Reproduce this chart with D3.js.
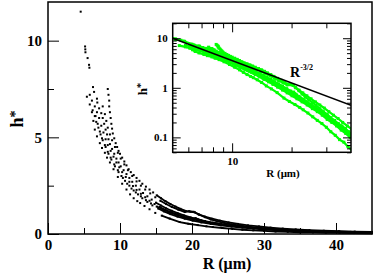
<!DOCTYPE html>
<html>
<head>
<meta charset="utf-8">
<script src="https://cdn.jsdelivr.net/npm/d3@7"></script>
<style>
  body { margin: 0; background: #fff; }
</style>
</head>
<body>
<div id="chart"></div>
<script>
// curves, [R (um), h*]
const curveA = [[8.3,7.5],[8.4,7.2],[8.5,6.9],[8.5,6.6],[8.6,6.3],[8.7,6.0],[8.8,5.7],[8.9,5.45],[9.0,5.2],[9.2,4.95],[9.4,4.7],[9.6,4.5],[9.8,4.3],[10.0,4.15],[10.3,3.95],[10.6,3.75],[10.9,3.55],[11.2,3.35],[11.5,3.2],[11.9,3.05],[12.3,2.9],[12.7,2.75],[13.1,2.6],[13.6,2.45],[14.1,2.3],[14.6,2.15],[15.1,2.0],[15.7,1.85],[16.3,1.7],[17.0,1.55],[17.7,1.42],[18.4,1.3],[19.2,1.18],[19.8,1.15],[20.4,1.12],[21.0,1.0],[21.8,0.87],[22.6,0.75],[23.5,0.65],[24.5,0.57],[25.5,0.5],[26.6,0.44],[27.8,0.38],[29,0.33],[30.3,0.29],[31.6,0.25],[33,0.22],[34.5,0.19],[36,0.17],[37.5,0.15],[39,0.13],[40.5,0.12],[42,0.11],[43.5,0.1],[45,0.09]];
const curveB = [[4.54,11.5],[5.15,9.7],[5.18,9.55],[5.2,9.4],[5.5,9.1],[5.7,8.75],[5.75,8.6],[6.25,7.6],[6.4,7.35],[6.8,7.0],[6.85,6.8],[7.1,6.5],[7.4,6.25],[7.6,6.0],[7.8,5.7],[8.0,5.4],[8.2,5.15],[8.4,4.9],[8.6,4.65],[8.9,4.4],[9.2,4.15],[9.5,3.9],[9.8,3.7],[10.1,3.5],[10.5,3.3],[10.9,3.1],[11.3,2.9],[11.7,2.7],[12.2,2.5],[12.7,2.3],[13.2,2.12],[13.8,1.95],[14.4,1.78],[15.0,1.62],[15.7,1.47],[16.4,1.33],[17.2,1.2],[18.0,1.08],[18.9,0.96],[19.8,0.86],[20.8,0.76],[21.8,0.67],[22.9,0.59],[24,0.52],[25.2,0.45],[26.5,0.39],[27.9,0.34],[29.3,0.29],[30.8,0.25],[32.4,0.21],[34,0.18],[35.7,0.15],[37.4,0.13],[39.2,0.11],[41,0.09],[43,0.08],[45,0.07]];
const curveC = [[5.4,7.1],[5.8,6.7],[6.1,6.3],[6.3,5.85],[6.5,5.4],[6.8,5.05],[7.2,4.7],[7.5,4.45],[7.9,4.2],[8.2,3.95],[8.6,3.7],[9.1,3.35],[9.7,2.95],[10.3,2.6],[10.9,2.3],[11.4,2.05],[11.9,1.85],[12.4,1.7],[12.8,1.6],[13.4,1.45],[14.1,1.28],[14.9,1.09],[15.8,0.95],[16.9,0.8],[18.3,0.62],[19.5,0.53],[20.8,0.46],[22,0.4],[22.9,0.36],[24.2,0.31],[25.6,0.26],[27,0.22],[28.5,0.19],[30,0.16],[31.6,0.13],[33.3,0.11],[35,0.09],[36.8,0.08],[38.6,0.065],[40.5,0.055],[42.5,0.05],[45,0.04]];
const curveD = [[5.8,7.2],[6.1,6.9],[6.5,6.6],[6.8,6.3],[7.1,6.0],[7.4,5.6],[7.7,5.25],[8.0,4.9],[8.3,4.6],[8.7,4.3],[9.1,4.0],[9.5,3.7],[9.9,3.45],[10.3,3.2],[10.8,2.95],[11.3,2.7],[11.8,2.48],[12.3,2.28],[12.9,2.08],[13.5,1.9],[14.1,1.72],[14.8,1.55],[15.5,1.4],[16.3,1.25],[17.1,1.12],[18,1.0],[18.9,0.89],[19.8,0.8],[20.5,0.82],[21.2,0.72],[22.2,0.62],[23.3,0.54],[24.5,0.47],[25.8,0.41],[27.2,0.35],[28.7,0.3],[30.2,0.26],[31.8,0.22],[33.5,0.19],[35.3,0.16],[37.1,0.14],[39,0.12],[41,0.1],[43,0.085],[45,0.075]];
const curveE = [[6.6,6.1],[6.9,5.7],[7.2,5.3],[7.5,4.95],[7.9,4.6],[8.3,4.25],[8.7,3.95],[9.2,3.6],[9.7,3.3],[10.2,3.0],[10.7,2.75],[11.3,2.5],[11.9,2.25],[12.5,2.05],[13.1,1.85],[13.8,1.66],[14.5,1.48],[15.3,1.32],[16.1,1.17],[17,1.03],[18,0.9],[19,0.79],[20.1,0.69],[21.3,0.6],[22.6,0.52],[24,0.45],[25.5,0.38],[27,0.33],[28.6,0.28],[30.3,0.23],[32,0.2],[33.8,0.17],[35.7,0.14],[37.6,0.12],[39.6,0.1],[41.6,0.085],[43.6,0.07],[45,0.065]];
const curveF = [[6.2,6.4],[6.5,6.1],[6.7,5.8],[7.0,5.5],[7.3,5.15],[7.6,4.85],[8.0,4.5],[8.4,4.15],[8.8,3.85],[9.3,3.5],[9.8,3.2],[10.4,2.9],[11.0,2.6],[11.6,2.35],[12.2,2.15],[12.9,1.95],[13.6,1.75],[14.3,1.58],[15.1,1.42],[15.9,1.28],[16.8,1.14],[17.7,1.02],[18.7,0.9],[19.7,0.8],[20.8,0.7],[22,0.61],[23.3,0.53],[24.7,0.46],[26.2,0.4],[27.8,0.34],[29.5,0.29],[31.3,0.24],[33.2,0.2],[35.2,0.17],[37.3,0.14],[39.5,0.12],[41.8,0.1],[44.5,0.085]];
const curveG = [[7.6,6.6],[7.9,6.2],[8.1,5.85],[8.3,5.5],[8.6,5.15],[8.9,4.85],[9.3,4.5],[9.7,4.2],[10.1,3.9],[10.6,3.6],[11.1,3.3],[11.7,3.0],[12.3,2.72],[12.9,2.5],[13.5,2.3],[14.2,2.1],[14.9,1.9],[15.6,1.72],[16.4,1.55],[17.2,1.4],[18.1,1.26],[19.0,1.14],[19.6,1.18],[20.2,1.15],[20.9,1.02],[21.8,0.9],[22.8,0.79],[23.9,0.69],[25.1,0.6],[26.4,0.52],[27.8,0.45],[29.3,0.39],[30.9,0.33],[32.6,0.28],[34.4,0.24],[36.3,0.2],[38.3,0.17],[40.4,0.145],[42.6,0.125],[45,0.11]];
const curves = [curveA, curveB, curveC, curveD, curveE, curveF, curveG];

// R^-3/2 guide line end points
const powerLine = [[5, 10], [40, 10 * Math.pow(8, -1.5)]];

const xMajor = [0, 10, 20, 30, 40];
const xMinor = [5, 15, 25, 35];
const yMajor = [0, 5, 10];
const yMinor = [2.5, 7.5];
const insetYMajor = [0.1, 1, 10];
const insetYMinor = [0.05,0.06,0.07,0.08,0.09,0.2,0.3,0.4,0.5,0.6,0.7,0.8,0.9,2,3,4,5,6,7,8,9,20];
const insetXMajor = [10];
const insetXMinor = [6, 7, 8, 9, 20, 30];

const FONT = "'Liberation Serif', 'Times New Roman', Times, serif";

const svg = d3.select("#chart").append("svg")
  .attr("width", 374)
  .attr("height", 276)
  .attr("font-family", FONT)
  .attr("font-weight", "bold");

// main plot
const x = d3.scaleLinear().domain([0, 45]).range([48, 372]);
const y = d3.scaleLinear().domain([0, 12]).range([234, 2]);

function styleAxis(g, size) {
  g.attr("font-family", FONT).attr("font-weight", "bold");
  g.select(".domain").remove();
  g.selectAll("line").attr("stroke", "#000");
  g.selectAll("text").attr("font-size", size).attr("fill", "#000");
}

svg.append("g").attr("transform", "translate(0,234)")
  .call(d3.axisBottom(x).tickValues(xMajor).tickSize(-11).tickPadding(5))
  .call(g => styleAxis(g, 15));
svg.append("g").attr("transform", "translate(0,234)")
  .call(d3.axisBottom(x).tickValues(xMinor).tickSize(-6).tickFormat(""))
  .call(g => styleAxis(g, 15));
svg.append("g").attr("transform", "translate(48,0)")
  .call(d3.axisLeft(y).tickValues(yMajor).tickSize(-11).tickPadding(6))
  .call(g => styleAxis(g, 15));
svg.append("g").attr("transform", "translate(48,0)")
  .call(d3.axisLeft(y).tickValues(yMinor).tickSize(-6).tickFormat(""))
  .call(g => styleAxis(g, 15));

svg.append("rect")
  .attr("x", 48).attr("y", 2).attr("width", 324).attr("height", 232)
  .attr("fill", "none").attr("stroke", "#000").attr("stroke-width", 1.5);

const tailLine = d3.line()
  .defined(d => d[0] >= 15)
  .x(d => x(d[0])).y(d => y(d[1]));

curves.forEach(c => {
  svg.append("path").datum(c)
    .attr("d", tailLine)
    .attr("fill", "none").attr("stroke", "#000").attr("stroke-width", 1.8);
  svg.append("g").selectAll("rect").data(c).enter().append("rect")
    .attr("x", d => x(d[0]) - 1).attr("y", d => y(d[1]) - 1)
    .attr("width", 2).attr("height", 2).attr("fill", "#000");
});

svg.append("text")
  .attr("x", 227).attr("y", 269)
  .attr("text-anchor", "middle").attr("font-size", 16)
  .text("R (\u03bcm)");

const yLab = svg.append("text")
  .attr("transform", "translate(23,119) rotate(-90)")
  .attr("text-anchor", "middle").attr("font-size", 18);
yLab.append("tspan").text("h");
yLab.append("tspan").attr("font-size", 14).attr("dy", -3).text("*");

// inset
const xi = d3.scaleLog().domain([5, 40]).range([172.7, 351]);
const yi = d3.scaleLog().domain([0.05, 20]).range([152.3, 23.3]);

svg.append("rect")
  .attr("x", 172.7).attr("y", 23.3).attr("width", 178.3).attr("height", 129)
  .attr("fill", "#fff");

svg.append("clipPath").attr("id", "insetClip")
  .append("rect")
  .attr("x", 172.7).attr("y", 23.3).attr("width", 178.3).attr("height", 129);

const inner = svg.append("g").attr("clip-path", "url(#insetClip)");
const insetLine = d3.line().x(d => xi(d[0])).y(d => yi(d[1]));

curves.forEach(c => {
  inner.append("path").datum(c)
    .attr("d", insetLine)
    .attr("fill", "none").attr("stroke", "#00ff00").attr("stroke-width", 2.2);
  inner.append("g").selectAll("rect").data(c).enter().append("rect")
    .attr("x", d => xi(d[0]) - 1.5).attr("y", d => yi(d[1]) - 1.5)
    .attr("width", 3).attr("height", 3).attr("fill", "#00ff00");
});

inner.append("path").datum(powerLine)
  .attr("d", insetLine)
  .attr("fill", "none").attr("stroke", "#000").attr("stroke-width", 1.5);

svg.append("g").attr("transform", "translate(0,152.3)")
  .call(d3.axisBottom(xi).tickValues(insetXMajor).tickSize(-9).tickPadding(5).tickFormat(d3.format("d")))
  .call(g => styleAxis(g, 11));
svg.append("g").attr("transform", "translate(0,152.3)")
  .call(d3.axisBottom(xi).tickValues(insetXMinor).tickSize(-5).tickFormat(""))
  .call(g => styleAxis(g, 11));
svg.append("g").attr("transform", "translate(0,23.3)")
  .call(d3.axisTop(xi).tickValues(insetXMajor).tickSize(-9).tickFormat(""))
  .call(g => styleAxis(g, 11));
svg.append("g").attr("transform", "translate(0,23.3)")
  .call(d3.axisTop(xi).tickValues(insetXMinor).tickSize(-5).tickFormat(""))
  .call(g => styleAxis(g, 11));
svg.append("g").attr("transform", "translate(172.7,0)")
  .call(d3.axisLeft(yi).tickValues(insetYMajor).tickSize(-8).tickPadding(5).tickFormat(d => String(d)))
  .call(g => styleAxis(g, 11));
svg.append("g").attr("transform", "translate(172.7,0)")
  .call(d3.axisLeft(yi).tickValues(insetYMinor).tickSize(-4).tickFormat(""))
  .call(g => styleAxis(g, 11));
svg.append("g").attr("transform", "translate(351,0)")
  .call(d3.axisRight(yi).tickValues(insetYMajor).tickSize(-8).tickFormat(""))
  .call(g => styleAxis(g, 11));
svg.append("g").attr("transform", "translate(351,0)")
  .call(d3.axisRight(yi).tickValues(insetYMinor).tickSize(-4).tickFormat(""))
  .call(g => styleAxis(g, 11));

svg.append("rect")
  .attr("x", 172.7).attr("y", 23.3).attr("width", 178.3).attr("height", 129)
  .attr("fill", "none").attr("stroke", "#000").attr("stroke-width", 1.5);

svg.append("text")
  .attr("x", 283).attr("y", 177)
  .attr("text-anchor", "middle").attr("font-size", 11)
  .text("R (\u03bcm)");

const yiLab = svg.append("text")
  .attr("transform", "translate(147,89) rotate(-90)")
  .attr("text-anchor", "middle").attr("font-size", 13);
yiLab.append("tspan").text("h");
yiLab.append("tspan").attr("font-size", 11).attr("dy", -3).text("*");

const pl = svg.append("text")
  .attr("x", 290).attr("y", 77).attr("font-size", 14);
pl.append("tspan").text("R");
pl.append("tspan").attr("font-size", 8).attr("dy", -7).text("-3/2");
</script>
</body>
</html>
